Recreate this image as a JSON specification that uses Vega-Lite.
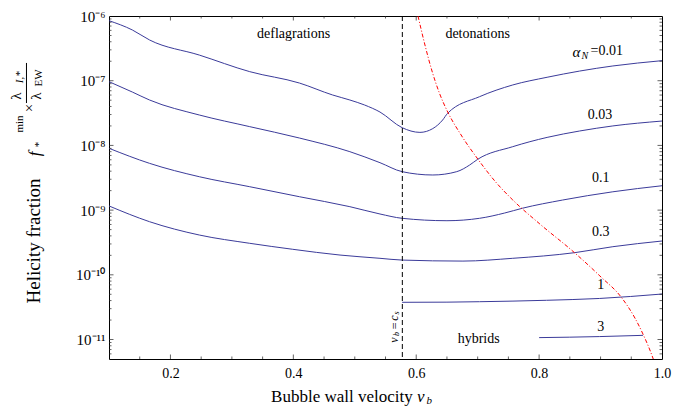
{
  "$schema": "https://vega.github.io/schema/vega-lite/v6.json",
  "width": 553,
  "height": 343,
  "autosize": "none",
  "padding": {"left": 109, "top": 16, "right": 24, "bottom": 50},
  "background": "white",
  "config": {
    "view": {"stroke": "black", "strokeWidth": 1},
    "font": "Liberation Serif",
    "axis": {"grid": false, "ticks": false, "labelFont": "Liberation Serif", "labelFontSize": 14, "labelColor": "black", "domain": false, "labelOverlap": false, "labelFlush": false, "labelBound": false}
  },
  "datasets": {
    "curves": [
      {"s": "0.01", "x": 0.1, "y": 8.46e-7}, {"s": "0.01", "x": 0.138, "y": 6.08e-7}, {"s": "0.01", "x": 0.166, "y": 4.26e-7}, {"s": "0.01", "x": 0.247, "y": 2.49e-7}, {"s": "0.01", "x": 0.329, "y": 1.38e-7}, {"s": "0.01", "x": 0.41, "y": 9.2e-8}, {"s": "0.01", "x": 0.464, "y": 6.01e-8}, {"s": "0.01", "x": 0.492, "y": 5.03e-8}, {"s": "0.01", "x": 0.516, "y": 4.21e-8}, {"s": "0.01", "x": 0.541, "y": 3.28e-8}, {"s": "0.01", "x": 0.577, "y": 1.88e-8}, {"s": "0.01", "x": 0.606, "y": 1.59e-8}, {"s": "0.01", "x": 0.627, "y": 1.82e-8}, {"s": "0.01", "x": 0.643, "y": 2.47e-8}, {"s": "0.01", "x": 0.651, "y": 3.13e-8}, {"s": "0.01", "x": 0.703, "y": 5.66e-8}, {"s": "0.01", "x": 0.757, "y": 8.59e-8}, {"s": "0.01", "x": 0.813, "y": 1.13e-7}, {"s": "0.01", "x": 0.866, "y": 1.41e-7}, {"s": "0.01", "x": 0.92, "y": 1.69e-7}, {"s": "0.01", "x": 1.0, "y": 2.04e-7},
      {"s": "0.03", "x": 0.1, "y": 9.66e-8}, {"s": "0.03", "x": 0.138, "y": 6.68e-8}, {"s": "0.03", "x": 0.166, "y": 5.03e-8}, {"s": "0.03", "x": 0.247, "y": 2.95e-8}, {"s": "0.03", "x": 0.329, "y": 1.95e-8}, {"s": "0.03", "x": 0.41, "y": 1.3e-8}, {"s": "0.03", "x": 0.492, "y": 8.0e-9}, {"s": "0.03", "x": 0.541, "y": 5.41e-9}, {"s": "0.03", "x": 0.577, "y": 3.93e-9}, {"s": "0.03", "x": 0.627, "y": 3.49e-9}, {"s": "0.03", "x": 0.666, "y": 3.93e-9}, {"s": "0.03", "x": 0.687, "y": 4.98e-9}, {"s": "0.03", "x": 0.7, "y": 6.1e-9}, {"s": "0.03", "x": 0.757, "y": 9.55e-9}, {"s": "0.03", "x": 0.813, "y": 1.33e-8}, {"s": "0.03", "x": 0.866, "y": 1.67e-8}, {"s": "0.03", "x": 0.92, "y": 2.0e-8}, {"s": "0.03", "x": 1.0, "y": 2.38e-8},
      {"s": "0.1", "x": 0.1, "y": 9.02e-9}, {"s": "0.1", "x": 0.166, "y": 5.28e-9}, {"s": "0.1", "x": 0.247, "y": 3.28e-9}, {"s": "0.1", "x": 0.329, "y": 2.3e-9}, {"s": "0.1", "x": 0.41, "y": 1.61e-9}, {"s": "0.1", "x": 0.492, "y": 1.13e-9}, {"s": "0.1", "x": 0.541, "y": 8.71e-10}, {"s": "0.1", "x": 0.577, "y": 7.47e-10}, {"s": "0.1", "x": 0.65, "y": 6.86e-10}, {"s": "0.1", "x": 0.703, "y": 7.47e-10}, {"s": "0.1", "x": 0.744, "y": 9.02e-10}, {"s": "0.1", "x": 0.773, "y": 1.07e-9}, {"s": "0.1", "x": 0.838, "y": 1.43e-9}, {"s": "0.1", "x": 0.92, "y": 1.92e-9}, {"s": "0.1", "x": 1.0, "y": 2.38e-9},
      {"s": "0.3", "x": 0.1, "y": 1.16e-9}, {"s": "0.3", "x": 0.166, "y": 6.62e-10}, {"s": "0.3", "x": 0.247, "y": 4.12e-10}, {"s": "0.3", "x": 0.329, "y": 3.07e-10}, {"s": "0.3", "x": 0.399, "y": 2.48e-10}, {"s": "0.3", "x": 0.476, "y": 2.02e-10}, {"s": "0.3", "x": 0.541, "y": 1.8e-10}, {"s": "0.3", "x": 0.577, "y": 1.69e-10}, {"s": "0.3", "x": 0.676, "y": 1.63e-10}, {"s": "0.3", "x": 0.757, "y": 1.8e-10}, {"s": "0.3", "x": 0.858, "y": 2.2e-10}, {"s": "0.3", "x": 0.92, "y": 2.72e-10}, {"s": "0.3", "x": 1.0, "y": 3.33e-10},
      {"s": "1", "x": 0.577, "y": 3.76e-11}, {"s": "1", "x": 0.65, "y": 3.78e-11}, {"s": "1", "x": 0.703, "y": 3.84e-11}, {"s": "1", "x": 0.812, "y": 4.04e-11}, {"s": "1", "x": 0.898, "y": 4.31e-11}, {"s": "1", "x": 1.0, "y": 5.05e-11},
      {"s": "3", "x": 0.8, "y": 1.07e-11}, {"s": "3", "x": 0.898, "y": 1.11e-11}, {"s": "3", "x": 0.969, "y": 1.16e-11}
    ],
    "red": [
      {"x": 0.6029, "y": 1e-6}, {"x": 0.6138, "y": 3.69e-7}, {"x": 0.6252, "y": 1.463e-7}, {"x": 0.6383, "y": 6.23e-8}, {"x": 0.6497, "y": 3.52e-8}, {"x": 0.6741, "y": 1.397e-8}, {"x": 0.7002, "y": 6.16e-9}, {"x": 0.7279, "y": 2.82e-9}, {"x": 0.7572, "y": 1.432e-9}, {"x": 0.8012, "y": 6.1e-10}, {"x": 0.8582, "y": 2.173e-10}, {"x": 0.899, "y": 9.58e-11}, {"x": 0.9347, "y": 4.38e-11}, {"x": 0.9559, "y": 2.15e-11}, {"x": 0.969, "y": 1.216e-11}, {"x": 0.9803, "y": 6.88e-12}, {"x": 0.9858, "y": 5e-12}
    ],
    "xmaj": [{"v": 0.2}, {"v": 0.4}, {"v": 0.6}, {"v": 0.8}],
    "xmin": [{"v": 0.15}, {"v": 0.25}, {"v": 0.3}, {"v": 0.35}, {"v": 0.45}, {"v": 0.5}, {"v": 0.55}, {"v": 0.65}, {"v": 0.7}, {"v": 0.75}, {"v": 0.85}, {"v": 0.9}, {"v": 0.95}],
    "ymaj": [{"v": 1e-11}, {"v": 1e-10}, {"v": 1e-9}, {"v": 1e-8}, {"v": 1e-7}],
    "ymin": [{"v": 6e-12}, {"v": 7e-12}, {"v": 8e-12}, {"v": 9e-12}, {"v": 2e-11}, {"v": 3e-11}, {"v": 4e-11}, {"v": 5e-11}, {"v": 6e-11}, {"v": 7e-11}, {"v": 8e-11}, {"v": 9e-11}, {"v": 2e-10}, {"v": 3e-10}, {"v": 4e-10}, {"v": 5e-10}, {"v": 6e-10}, {"v": 7e-10}, {"v": 8e-10}, {"v": 9e-10}, {"v": 2e-9}, {"v": 3e-9}, {"v": 4e-9}, {"v": 5e-9}, {"v": 6e-9}, {"v": 7e-9}, {"v": 8e-9}, {"v": 9e-9}, {"v": 2e-8}, {"v": 3e-8}, {"v": 4e-8}, {"v": 5e-8}, {"v": 6e-8}, {"v": 7e-8}, {"v": 8e-8}, {"v": 9e-8}, {"v": 2e-7}, {"v": 3e-7}, {"v": 4e-7}, {"v": 5e-7}, {"v": 6e-7}, {"v": 7e-7}, {"v": 8e-7}, {"v": 9e-7}]
  },
  "resolve": {"axis": {"x": "independent", "y": "independent"}},
  "layer": [
    {
      "data": {"name": "curves"},
      "mark": {"type": "line", "color": "#3b3b9a", "strokeWidth": 1, "interpolate": "monotone"},
      "encoding": {
        "x": {"field": "x", "type": "quantitative", "scale": {"domain": [0.1, 1.0], "nice": false, "zero": false},
          "axis": {"orient": "bottom", "title": null, "values": [0.2, 0.4, 0.6, 0.8, 1.0], "format": ".1f", "labelPadding": 7}},
        "y": {"field": "y", "type": "quantitative", "scale": {"type": "log", "domain": [5e-12, 1e-6], "nice": false},
          "axis": {"orient": "left", "title": null, "values": [1e-11, 1e-10, 1e-9, 1e-8, 1e-7, 1e-6], "labelFontSize": 15,
            "labelExpr": "['10⁻¹¹','10⁻¹⁰','10⁻⁹','10⁻⁸','10⁻⁷','10⁻⁶'][round(log(datum.value)/LN10) + 11]",
            "labelPadding": 4}},
        "detail": {"field": "s", "type": "nominal"}
      }
    },
    {
      "data": {"name": "xmaj"},
      "mark": {"type": "tick", "orient": "vertical", "size": 4.5, "thickness": 1, "color": "#222", "yOffset": -2.25},
      "encoding": {
        "x": {"field": "v", "type": "quantitative", "scale": {"domain": [0.1, 1.0], "nice": false, "zero": false}, "axis": null},
        "y": {"datum": 5e-12, "type": "quantitative", "scale": {"type": "log", "domain": [5e-12, 1e-6], "nice": false}, "axis": null}
      }
    },
    {
      "data": {"name": "xmaj"},
      "mark": {"type": "tick", "orient": "vertical", "size": 4.5, "thickness": 1, "color": "#222", "yOffset": 2.25},
      "encoding": {
        "x": {"field": "v", "type": "quantitative", "scale": {"domain": [0.1, 1.0], "nice": false, "zero": false}, "axis": null},
        "y": {"datum": 1e-6, "type": "quantitative", "scale": {"type": "log", "domain": [5e-12, 1e-6], "nice": false}, "axis": null}
      }
    },
    {
      "data": {"name": "xmin"},
      "mark": {"type": "tick", "orient": "vertical", "size": 2.5, "thickness": 1, "color": "#222", "yOffset": -1.25},
      "encoding": {
        "x": {"field": "v", "type": "quantitative", "scale": {"domain": [0.1, 1.0], "nice": false, "zero": false}, "axis": null},
        "y": {"datum": 5e-12, "type": "quantitative", "scale": {"type": "log", "domain": [5e-12, 1e-6], "nice": false}, "axis": null}
      }
    },
    {
      "data": {"name": "xmin"},
      "mark": {"type": "tick", "orient": "vertical", "size": 2.5, "thickness": 1, "color": "#222", "yOffset": 1.25},
      "encoding": {
        "x": {"field": "v", "type": "quantitative", "scale": {"domain": [0.1, 1.0], "nice": false, "zero": false}, "axis": null},
        "y": {"datum": 1e-6, "type": "quantitative", "scale": {"type": "log", "domain": [5e-12, 1e-6], "nice": false}, "axis": null}
      }
    },
    {
      "data": {"name": "ymaj"},
      "mark": {"type": "tick", "orient": "horizontal", "size": 4.5, "thickness": 1, "color": "#222", "xOffset": 2.25},
      "encoding": {
        "x": {"datum": 0.1, "type": "quantitative", "scale": {"domain": [0.1, 1.0], "nice": false, "zero": false}, "axis": null},
        "y": {"field": "v", "type": "quantitative", "scale": {"type": "log", "domain": [5e-12, 1e-6], "nice": false}, "axis": null}
      }
    },
    {
      "data": {"name": "ymaj"},
      "mark": {"type": "tick", "orient": "horizontal", "size": 4.5, "thickness": 1, "color": "#222", "xOffset": -2.25},
      "encoding": {
        "x": {"datum": 1.0, "type": "quantitative", "scale": {"domain": [0.1, 1.0], "nice": false, "zero": false}, "axis": null},
        "y": {"field": "v", "type": "quantitative", "scale": {"type": "log", "domain": [5e-12, 1e-6], "nice": false}, "axis": null}
      }
    },
    {
      "data": {"name": "ymin"},
      "mark": {"type": "tick", "orient": "horizontal", "size": 2.5, "thickness": 1, "color": "#222", "xOffset": 1.25},
      "encoding": {
        "x": {"datum": 0.1, "type": "quantitative", "scale": {"domain": [0.1, 1.0], "nice": false, "zero": false}, "axis": null},
        "y": {"field": "v", "type": "quantitative", "scale": {"type": "log", "domain": [5e-12, 1e-6], "nice": false}, "axis": null}
      }
    },
    {
      "data": {"name": "ymin"},
      "mark": {"type": "tick", "orient": "horizontal", "size": 2.5, "thickness": 1, "color": "#222", "xOffset": -1.25},
      "encoding": {
        "x": {"datum": 1.0, "type": "quantitative", "scale": {"domain": [0.1, 1.0], "nice": false, "zero": false}, "axis": null},
        "y": {"field": "v", "type": "quantitative", "scale": {"type": "log", "domain": [5e-12, 1e-6], "nice": false}, "axis": null}
      }
    },
    {
      "data": {"values": [{"v": 0.5774}]},
      "mark": {"type": "rule", "color": "black", "strokeDash": [5, 3], "strokeWidth": 1},
      "encoding": {
        "x": {"field": "v", "type": "quantitative", "scale": {"domain": [0.1, 1.0], "nice": false, "zero": false}, "axis": null}
      }
    },
    {
      "data": {"name": "red"},
      "mark": {"type": "line", "color": "#ff0000", "strokeWidth": 1, "strokeDash": [4, 2, 1, 2], "interpolate": "monotone"},
      "encoding": {
        "x": {"field": "x", "type": "quantitative", "scale": {"domain": [0.1, 1.0], "nice": false, "zero": false}, "axis": null},
        "y": {"field": "y", "type": "quantitative", "scale": {"type": "log", "domain": [5e-12, 1e-6], "nice": false}, "axis": null}
      }
    },
    {
      "data": {"values": [
        {"t": "deflagrations", "x": 0.4005, "y": 5.27e-7},
        {"t": "detonations", "x": 0.7, "y": 5.27e-7},
        {"t": "0.03", "x": 0.899, "y": 2.95e-8},
        {"t": "0.1", "x": 0.9005, "y": 3.13e-9},
        {"t": "0.3", "x": 0.9005, "y": 4.59e-10},
        {"t": "1", "x": 0.9005, "y": 6.95e-11},
        {"t": "3", "x": 0.9005, "y": 1.56e-11},
        {"t": "hybrids", "x": 0.7016, "y": 1.02e-11}
      ]},
      "mark": {"type": "text", "font": "Liberation Serif", "fontSize": 14, "align": "center", "baseline": "middle", "color": "black"},
      "encoding": {
        "x": {"field": "x", "type": "quantitative", "scale": {"domain": [0.1, 1.0], "nice": false, "zero": false}, "axis": null},
        "y": {"field": "y", "type": "quantitative", "scale": {"type": "log", "domain": [5e-12, 1e-6], "nice": false}, "axis": null},
        "text": {"field": "t"}
      }
    },
    {
      "data": {"values": [{"t": "=0.01", "x": 0.8837, "y": 2.88e-7}]},
      "mark": {"type": "text", "font": "Liberation Serif", "fontSize": 14, "align": "left", "baseline": "middle", "color": "black"},
      "encoding": {
        "x": {"field": "x", "type": "quantitative", "scale": {"domain": [0.1, 1.0], "nice": false, "zero": false}, "axis": null},
        "y": {"field": "y", "type": "quantitative", "scale": {"type": "log", "domain": [5e-12, 1e-6], "nice": false}, "axis": null},
        "text": {"field": "t"}
      }
    },
    {
      "data": {"values": [{"t": "α", "x": 0.8606, "y": 2.78e-7}]},
      "mark": {"type": "text", "font": "Liberation Serif", "fontSize": 15, "fontStyle": "italic", "align": "center", "baseline": "middle", "color": "black"},
      "encoding": {
        "x": {"field": "x", "type": "quantitative", "scale": {"domain": [0.1, 1.0], "nice": false, "zero": false}, "axis": null},
        "y": {"field": "y", "type": "quantitative", "scale": {"type": "log", "domain": [5e-12, 1e-6], "nice": false}, "axis": null},
        "text": {"field": "t"}
      }
    },
    {
      "data": {"values": [{"t": "v", "x": 0.6073, "y": 1.29e-12}]},
      "mark": {"type": "text", "font": "Liberation Serif", "fontSize": 17, "fontStyle": "italic", "align": "center", "baseline": "middle", "color": "black"},
      "encoding": {
        "x": {"field": "x", "type": "quantitative", "scale": {"domain": [0.1, 1.0], "nice": false, "zero": false}, "axis": null},
        "y": {"field": "y", "type": "quantitative", "scale": {"type": "log", "domain": [5e-12, 1e-6], "nice": false}, "axis": null},
        "text": {"field": "t"}
      }
    },
    {
      "data": {"values": [{"t": "N", "x": 0.8744, "y": 2.41e-7}]},
      "mark": {"type": "text", "font": "Liberation Serif", "fontSize": 10, "fontStyle": "italic", "align": "center", "baseline": "middle", "color": "black"},
      "encoding": {
        "x": {"field": "x", "type": "quantitative", "scale": {"domain": [0.1, 1.0], "nice": false, "zero": false}, "axis": null},
        "y": {"field": "y", "type": "quantitative", "scale": {"type": "log", "domain": [5e-12, 1e-6], "nice": false}, "axis": null},
        "text": {"field": "t"}
      }
    },
    {
      "data": {"values": [{"t": "b", "x": 0.6212, "y": 1.12e-12}]},
      "mark": {"type": "text", "font": "Liberation Serif", "fontSize": 11, "fontStyle": "italic", "align": "center", "baseline": "middle", "color": "black"},
      "encoding": {
        "x": {"field": "x", "type": "quantitative", "scale": {"domain": [0.1, 1.0], "nice": false, "zero": false}, "axis": null},
        "y": {"field": "y", "type": "quantitative", "scale": {"type": "log", "domain": [5e-12, 1e-6], "nice": false}, "axis": null},
        "text": {"field": "t"}
      }
    },
    {
      "data": {"values": [{"t": "Bubble wall velocity", "x": 0.5943, "y": 1.29e-12}]},
      "mark": {"type": "text", "font": "Liberation Serif", "fontSize": 17, "align": "right", "baseline": "middle", "color": "black"},
      "encoding": {
        "x": {"field": "x", "type": "quantitative", "scale": {"domain": [0.1, 1.0], "nice": false, "zero": false}, "axis": null},
        "y": {"field": "y", "type": "quantitative", "scale": {"type": "log", "domain": [5e-12, 1e-6], "nice": false}, "axis": null},
        "text": {"field": "t"}
      }
    },
    {
      "data": {"values": [{"t": "Helicity fraction", "x": -0.0213, "y": 3.33e-10}]},
      "mark": {"type": "text", "font": "Liberation Serif", "fontSize": 19, "angle": 270, "align": "center", "baseline": "middle", "color": "black"},
      "encoding": {
        "x": {"field": "x", "type": "quantitative", "scale": {"domain": [0.1, 1.0], "nice": false, "zero": false}, "axis": null},
        "y": {"field": "y", "type": "quantitative", "scale": {"type": "log", "domain": [5e-12, 1e-6], "nice": false}, "axis": null},
        "text": {"field": "t"}
      }
    },
    {
      "data": {"values": [{"t": "×", "x": -0.0295, "y": 3.78e-8}, {"t": "λ", "x": -0.0507, "y": 5.8e-8}, {"t": "λ", "x": -0.0181, "y": 5.8e-8}]},
      "mark": {"type": "text", "font": "Liberation Serif", "fontSize": 15, "angle": 270, "align": "center", "baseline": "middle", "color": "black"},
      "encoding": {
        "x": {"field": "x", "type": "quantitative", "scale": {"domain": [0.1, 1.0], "nice": false, "zero": false}, "axis": null},
        "y": {"field": "y", "type": "quantitative", "scale": {"type": "log", "domain": [5e-12, 1e-6], "nice": false}, "axis": null},
        "text": {"field": "t"}
      }
    },
    {
      "data": {"values": [{"t": "f", "x": -0.0197, "y": 7.4e-9}]},
      "mark": {"type": "text", "font": "Liberation Serif", "fontSize": 17, "fontStyle": "italic", "angle": 270, "align": "center", "baseline": "middle", "color": "black"},
      "encoding": {
        "x": {"field": "x", "type": "quantitative", "scale": {"domain": [0.1, 1.0], "nice": false, "zero": false}, "axis": null},
        "y": {"field": "y", "type": "quantitative", "scale": {"type": "log", "domain": [5e-12, 1e-6], "nice": false}, "axis": null},
        "text": {"field": "t"}
      }
    },
    {
      "data": {"values": [{"t": "*", "x": -0.0132, "y": 1.03e-8}, {"t": "min", "x": -0.0441, "y": 2.14e-8}, {"t": "EW", "x": -0.0132, "y": 1.1e-7}]},
      "mark": {"type": "text", "font": "Liberation Serif", "fontSize": 11, "angle": 270, "align": "center", "baseline": "middle", "color": "black"},
      "encoding": {
        "x": {"field": "x", "type": "quantitative", "scale": {"domain": [0.1, 1.0], "nice": false, "zero": false}, "axis": null},
        "y": {"field": "y", "type": "quantitative", "scale": {"type": "log", "domain": [5e-12, 1e-6], "nice": false}, "axis": null},
        "text": {"field": "t"}
      }
    },
    {
      "data": {"values": [{"t": "I,*", "x": -0.0441, "y": 1.13e-7}]},
      "mark": {"type": "text", "font": "Liberation Serif", "fontSize": 11, "fontStyle": "italic", "angle": 270, "align": "center", "baseline": "middle", "color": "black"},
      "encoding": {
        "x": {"field": "x", "type": "quantitative", "scale": {"domain": [0.1, 1.0], "nice": false, "zero": false}, "axis": null},
        "y": {"field": "y", "type": "quantitative", "scale": {"type": "log", "domain": [5e-12, 1e-6], "nice": false}, "axis": null},
        "text": {"field": "t"}
      }
    },
    {
      "data": {"values": [{"x": -0.0343, "y": 1.88e-7, "y2": 4.52e-8}]},
      "mark": {"type": "rule", "color": "black", "strokeWidth": 1},
      "encoding": {
        "x": {"field": "x", "type": "quantitative", "scale": {"domain": [0.1, 1.0], "nice": false, "zero": false}, "axis": null},
        "y": {"field": "y", "type": "quantitative", "scale": {"type": "log", "domain": [5e-12, 1e-6], "nice": false}, "axis": null},
        "y2": {"field": "y2"}
      }
    },
    {
      "data": {"values": [{"t": "v", "x": 0.5634, "y": 9.83e-12}, {"t": "c", "x": 0.5634, "y": 2.15e-11}]},
      "mark": {"type": "text", "font": "Liberation Serif", "fontSize": 12, "fontStyle": "italic", "angle": 270, "align": "center", "baseline": "middle", "color": "black"},
      "encoding": {
        "x": {"field": "x", "type": "quantitative", "scale": {"domain": [0.1, 1.0], "nice": false, "zero": false}, "axis": null},
        "y": {"field": "y", "type": "quantitative", "scale": {"type": "log", "domain": [5e-12, 1e-6], "nice": false}, "axis": null},
        "text": {"field": "t"}
      }
    },
    {
      "data": {"values": [{"t": "b", "x": 0.5683, "y": 1.22e-11}, {"t": "s", "x": 0.5683, "y": 2.57e-11}]},
      "mark": {"type": "text", "font": "Liberation Serif", "fontSize": 8, "fontStyle": "italic", "angle": 270, "align": "center", "baseline": "middle", "color": "black"},
      "encoding": {
        "x": {"field": "x", "type": "quantitative", "scale": {"domain": [0.1, 1.0], "nice": false, "zero": false}, "axis": null},
        "y": {"field": "y", "type": "quantitative", "scale": {"type": "log", "domain": [5e-12, 1e-6], "nice": false}, "axis": null},
        "text": {"field": "t"}
      }
    },
    {
      "data": {"values": [{"t": "=", "x": 0.565, "y": 1.62e-11}]},
      "mark": {"type": "text", "font": "Liberation Serif", "fontSize": 12, "angle": 270, "align": "center", "baseline": "middle", "color": "black"},
      "encoding": {
        "x": {"field": "x", "type": "quantitative", "scale": {"domain": [0.1, 1.0], "nice": false, "zero": false}, "axis": null},
        "y": {"field": "y", "type": "quantitative", "scale": {"type": "log", "domain": [5e-12, 1e-6], "nice": false}, "axis": null},
        "text": {"field": "t"}
      }
    }
  ]
}
